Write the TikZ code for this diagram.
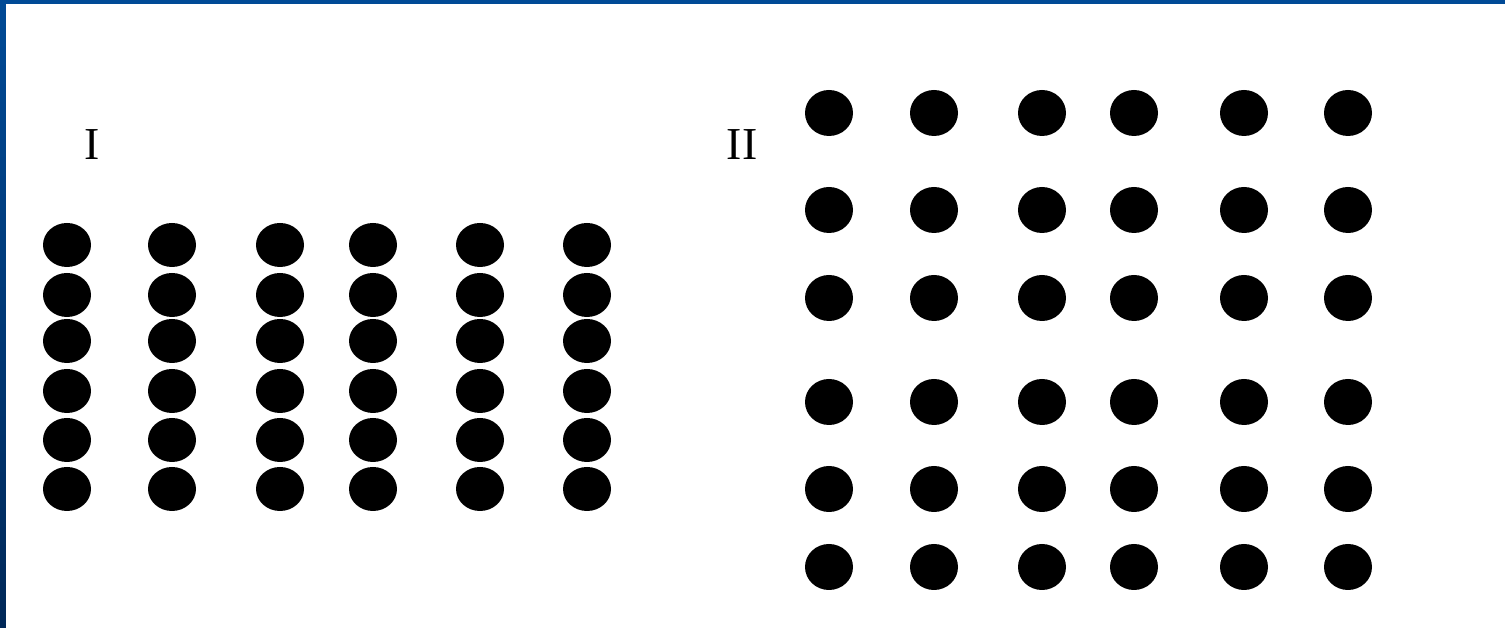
\documentclass[tikz,border=0pt]{standalone}
\usepackage{fontspec}
\setmainfont{Liberation Serif}
\usepackage{xcolor}
\usepackage{tikz}
\usetikzlibrary{positioning}

\definecolor{frameblue}{RGB}{0,74,150}
\definecolor{framedark}{RGB}{0,40,88}

\begin{document}
\begin{tikzpicture}[x=0.01cm, y=-0.01cm,
    dot/.style={fill=black},
    numlabel/.style={font=\fontsize{13}{15}\selectfont, inner sep=0pt}]
    % frame
    \useasboundingbox (0,0) rectangle (1505,628);
    \fill[white] (0,0) rectangle (1505,628);
    \fill[frameblue] (0,0) rectangle (1505,4);
    \shade[top color=frameblue, bottom color=framedark] (0,0) rectangle (6,628);

    % labels
    \node[numlabel] (labelI) at (92,145) {I};
    \node[numlabel] (labelII) at (742,145) {II};

    % group I
    \foreach \x in {67,172,280,373,480,587}
        \foreach \y in {245,295,341,391,440,489}
            \fill[dot] (\x,\y) ellipse (24 and 22);

    % group II
    \foreach \x in {829,934,1042,1134,1244,1348}
        \foreach \y in {113,210,298,402,489,567}
            \fill[dot] (\x,\y) ellipse (24 and 23);
\end{tikzpicture}
\end{document}
